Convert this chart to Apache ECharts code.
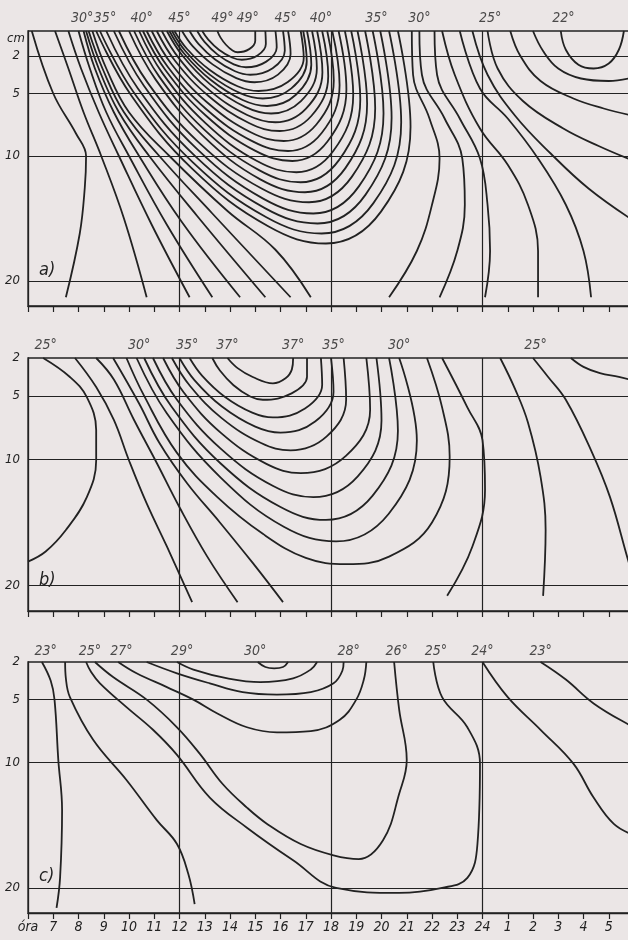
<!DOCTYPE html>
<html>
<head>
<meta charset="utf-8">
<script src="https://cdn.jsdelivr.net/npm/echarts@6/dist/echarts.min.js"></script>
<style>
  html, body { margin: 0; padding: 0; background: #ebe6e6; }
  #chart { width: 628px; height: 940px; }
</style>
</head>
<body>
<div id="chart"></div>
<script>
// x = hour of day (6..30, 25..30 = 1..6 next morning), y = depth in cm
var hourLabels = ['óra','7','8','9','10','11','12','13','14','15','16','17','18',
  '19','20','21','22','23','24','1','2','3','4','5',''];
var hourLines = [12, 18, 24];
var depthLabels = [2, 5, 10, 20];
var depthLinesA = [2, 5, 10, 20];
var depthLinesBC = [5, 10, 20];

// a) isotherms: lines running from the surface down to 21 cm in the morning
var aFan = [
  [[6.15,0],[7.0,5],[7.9,8.2],[8.3,10],[8.25,12.5],[8.05,16.2],[7.5,21.3]],
  [[7.07,0],[7.6,3],[8.2,6.5],[8.9,10],[9.8,15],[10.7,21.3]],
  [[7.6,0],[8.1,3],[8.8,6.5],[9.6,10],[10.9,15.5],[12.4,21.3]],
  [[8.0,0],[8.45,3],[9.1,6.5],[10.0,10],[11.5,15.5],[13.3,21.3]],
  [[8.2,0],[8.65,3],[9.4,6.5],[10.4,10],[12.1,15.3],[14.4,21.3]],
  [[8.3,0],[8.8,3],[9.6,6.5],[10.8,10],[12.7,14.8],[15.4,21.3]],
  [[8.4,0],[8.95,3],[9.8,6.5],[11.2,10],[13.3,14.6],[16.4,21.3]],
  [[8.55,0],[9.1,3],[10.0,6.5],[11.6,10],[13.9,14.4],[15.8,17.5],[17.2,21.3]]
];
// a) closed isotherms 49° .. 28° (both ends at the surface)
var aLoops = [
  [[13.5,0],[13.62,0.51],[13.84,1.1],[14.1,1.56],[14.3,1.7],[14.76,1.45],[15.0,0.77],[15.0,0]],
  [[12.9,0],[13.14,0.69],[13.56,1.5],[14.08,2.12],[14.47,2.3],[15.09,1.96],[15.42,1.04],[15.4,0]],
  [[12.7,0],[12.99,0.87],[13.51,1.89],[14.15,2.67],[14.63,2.9],[15.42,2.47],[15.85,1.31],[15.8,0]],
  [[12.4,0],[12.76,1.05],[13.41,2.28],[14.2,3.22],[14.8,3.5],[15.69,2.98],[16.17,1.58],[16.1,0]],
  [[12.1,0],[12.53,1.23],[13.31,2.67],[14.25,3.77],[14.97,4.1],[15.9,3.49],[16.4,1.85],[16.3,0]],
  [[11.8,0],[12.3,1.44],[13.2,3.12],[14.3,4.42],[15.13,4.8],[16.29,4.08],[16.92,2.16],[16.8,0]],
  [[11.7,0],[12.24,1.62],[13.21,3.51],[14.4,4.97],[15.3,5.4],[16.43,4.59],[17.04,2.43],[16.9,0]],
  [[11.6,0],[12.18,1.8],[13.23,3.9],[14.5,5.52],[15.47,6.0],[16.61,5.1],[17.22,2.7],[17.05,0]],
  [[11.5,0],[12.12,1.98],[13.23,4.29],[14.6,6.07],[15.63,6.6],[16.81,5.61],[17.44,2.97],[17.25,0]],
  [[11.3,0],[11.98,2.19],[13.19,4.75],[14.68,6.72],[15.8,7.3],[17.01,6.21],[17.66,3.29],[17.45,0]],
  [[11.1,0],[11.83,2.4],[13.15,5.2],[14.75,7.36],[15.97,8.0],[17.22,6.8],[17.89,3.6],[17.65,0]],
  [[10.9,0],[11.68,2.64],[13.1,5.72],[14.82,8.1],[16.13,8.8],[17.42,7.48],[18.11,3.96],[17.85,0]],
  [[10.7,0],[11.54,2.88],[13.05,6.24],[14.9,8.83],[16.3,9.6],[17.63,8.16],[18.34,4.32],[18.05,0]],
  [[10.55,0],[11.44,3.12],[13.04,6.76],[14.99,9.57],[16.47,10.4],[17.86,8.84],[18.61,4.68],[18.3,0]],
  [[10.4,0],[11.33,3.39],[13.02,7.35],[15.07,10.4],[16.63,11.3],[18.09,9.6],[18.88,5.09],[18.55,0]],
  [[10.2,0],[11.19,3.63],[12.97,7.87],[15.15,11.13],[16.8,12.1],[18.33,10.29],[19.16,5.45],[18.8,0]],
  [[10.0,0],[11.05,3.87],[12.93,8.39],[15.2,11.87],[16.97,12.9],[18.57,10.97],[19.43,5.81],[19.05,0]],
  [[9.6,0],[10.73,4.11],[12.76,8.91],[15.25,12.6],[17.13,13.7],[18.83,11.65],[19.75,6.17],[19.35,0]],
  [[9.4,0],[10.59,4.38],[12.72,9.49],[15.33,13.43],[17.3,14.6],[19.11,12.41],[20.08,6.57],[19.65,0]],
  [[9.1,0],[10.36,4.62],[12.62,10.01],[15.38,14.17],[17.47,15.4],[19.37,13.09],[20.4,6.93],[19.95,0]],
  [[8.85,0],[10.17,4.86],[12.54,10.53],[15.44,14.9],[17.63,16.2],[19.68,13.77],[20.78,7.29],[20.3,0]],
  [[8.7,0],[10.07,5.1],[12.52,11.05],[15.53,15.64],[17.8,17.0],[19.98,14.45],[21.15,7.65],[20.65,0]]
];
// a) evening and night isotherms
var aRight = [
  [[21.2,0],[21.25,3.5],[21.9,7],[22.3,10.2],[22.0,13.9],[21.4,17.6],[20.3,21.3]],
  [[21.5,0],[21.6,3.5],[22.5,7],[23.2,10.2],[23.3,13.9],[23.0,17.6],[22.3,21.3]],
  [[22.1,0],[22.2,3.5],[23.1,7],[23.9,10.2],[24.2,13.9],[24.3,17.6],[24.1,21.3]],
  [[22.4,0],[22.9,3.5],[23.9,7.8],[25.0,10.7],[25.8,13.9],[26.2,17.6],[26.2,21.3]],
  [[23.1,0],[23.9,4.6],[25.0,7],[26.2,10.2],[27.3,13.9],[28.0,17.6],[28.3,21.3]],
  [[23.6,0],[24.2,3.5],[25.3,6.8],[26.7,9.8],[28.2,12.6],[30,15.2]],
  [[24.2,0],[24.6,3],[25.6,5.6],[27.2,7.8],[28.6,9.2],[30,10.4]],
  [[25.1,0],[25.5,2],[26.3,4.0],[27.6,5.4],[28.8,6.2],[30,6.8]],
  [[26.0,0],[26.4,1.6],[27.0,3.0],[27.9,3.8],[29.0,4.0],[30,3.7]],
  [[27.1,0],[27.3,1.5],[27.8,2.7],[28.4,3.0],[29.0,2.6],[29.4,1.5],[29.6,0]]
];
var aLabels = [[8.14,'30°'],[9.05,'35°'],[10.5,'40°'],[12.0,'45°'],[13.7,'49°'],[14.7,'49°'],
  [16.2,'45°'],[17.6,'40°'],[19.8,'35°'],[21.5,'30°'],[24.3,'25°'],[27.2,'22°']];

// b)
var bCurves = [
  [[6.6,2],[7.66,3.5],[8.33,5.1],[8.7,7.7],[8.7,10.1],[8.33,13],[7.5,15.6],[6.7,17.3],[6.0,18.1]],
  [[7.86,2],[8.7,4.3],[9.4,6.9],[10.0,10.1],[10.7,13.5],[11.5,16.9],[12.5,21.3]],
  [[8.7,2],[9.4,3.7],[10.2,6.9],[11.1,10.3],[12.0,13.8],[13.1,17.7],[14.3,21.3]],
  [[9.37,2],[10.4,5.6],[11.2,8.7],[12.3,11.9],[13.6,15],[14.9,18.2],[16.1,21.3]],
  [[13.9,2],[14.3,2.8],[14.9,3.5],[15.7,4.0],[16.2,3.6],[16.45,2.9],[16.5,2]],
  [[13.3,2],[13.6,2.99],[14.14,4.15],[14.8,5.04],[15.3,5.3],[16.44,4.8],[17.05,3.49],[17.05,2]],
  [[12.4,2],[12.9,3.41],[13.79,5.06],[14.88,6.32],[15.7,6.7],[16.97,6.0],[17.65,4.12],[17.6,2]],
  [[12.0,2],[12.6,3.77],[13.68,5.84],[15.0,7.43],[16.0,7.9],[17.37,7.02],[18.1,4.66],[18.0,2]],
  [[11.7,2],[12.41,4.19],[13.67,6.75],[15.23,8.72],[16.4,9.3],[17.83,8.2],[18.6,5.29],[18.5,2]],
  [[11.35,2],[12.17,4.73],[13.64,7.92],[15.44,10.37],[16.8,11.1],[18.59,9.74],[19.55,6.1],[19.4,2]],
  [[10.95,2],[11.9,5.3],[13.62,9.15],[15.71,12.12],[17.3,13.0],[19.06,11.35],[20.0,6.95],[19.8,2]],
  [[10.6,2],[11.68,5.84],[13.62,10.32],[16.0,13.78],[17.8,14.8],[19.65,12.88],[20.65,7.76],[20.3,2]],
  [[10.3,2],[11.49,6.35],[13.62,11.43],[16.13,15.34],[18.2,16.5],[20.28,14.33],[21.4,8.53],[20.7,2]],
  [[9.9,2],[10.6,5],[11.9,9.5],[13.5,13],[15.3,15.9],[17.0,17.8],[18.6,18.3],[20.3,17.7],[22.0,15],[22.7,9.8],[22.4,5.9],[21.8,2]],
  [[22.4,2],[23.4,5.9],[24.0,8.5],[24.1,12.4],[23.6,16.9],[22.6,20.8]],
  [[24.7,2],[25.3,4.5],[25.8,7.1],[26.3,11.4],[26.5,15.6],[26.4,20.8]],
  [[26.0,2],[26.6,3.5],[27.3,5.3],[28.3,9.3],[29.05,13],[29.8,18.2],[30,19.3]],
  [[27.5,2],[28.0,2.7],[28.65,3.2],[29.4,3.5],[30,3.8]]
];
var bLabels = [[6.7,'25°'],[10.4,'30°'],[12.3,'35°'],[13.9,'37°'],[16.5,'37°'],
  [18.1,'35°'],[20.7,'30°'],[26.1,'25°']];

// c)
var cCurves = [
  [[6.55,2],[6.9,3.5],[7.05,5],[7.2,9.8],[7.35,13.8],[7.27,19.2],[7.13,21.6]],
  [[7.47,2],[7.5,3.3],[7.66,4.8],[8.58,8.2],[9.9,11.4],[11.1,14.6],[11.9,16.5],[12.35,18.9],[12.6,21.3]],
  [[8.3,2],[8.5,2.8],[8.85,3.7],[9.9,5.6],[10.95,7.4],[11.9,9.4],[13.2,12.8],[14.67,15.2],[16.5,17.8],[18.2,20],
   [20.7,20.4],[22.4,20],[23.4,19.2],[23.8,16.5],[23.9,10.1],[23.4,7.2],[22.4,4.8],[22.05,2]],
  [[8.65,2],[9.37,3.2],[10.7,5.0],[11.9,7.2],[12.8,9.3],[13.7,11.7],[14.67,13.6],[15.47,14.9],[16.8,16.5],[18.1,17.4],
   [19.1,17.7],[20.06,16.2],[20.7,12.5],[21.0,9.8],[20.7,5.8],[20.5,2]],
  [[9.57,2],[10.3,2.9],[11.5,4.0],[12.55,5.0],[13.5,6.1],[14.67,7.2],[15.86,7.6],[17.2,7.5],[18.35,6.6],[19.0,5.0],[19.3,3.4],[19.4,2]],
  [[10.7,2],[11.9,2.9],[13.2,3.7],[14.5,4.4],[15.86,4.6],[17.2,4.4],[18.1,3.7],[18.45,2.7],[18.5,2]],
  [[11.9,2],[12.55,2.6],[13.9,3.3],[15.2,3.6],[16.5,3.3],[17.2,2.6],[17.45,2]],
  [[15.1,2],[15.4,2.4],[15.75,2.5],[16.1,2.4],[16.3,2]],
  [[24.0,2],[25.0,4.8],[26.3,7.4],[27.6,10.1],[28.4,12.8],[29.2,14.9],[30,15.8]],
  [[26.3,2],[27.3,3.4],[28.4,5.3],[29.8,7.0],[30,7.1]]
];
var cLabels = [[6.7,'23°'],[8.45,'25°'],[9.7,'27°'],[12.1,'29°'],[15.0,'30°'],[18.7,'28°'],
  [20.6,'26°'],[22.15,'25°'],[24.0,'24°'],[26.3,'23°']];

var INK = '#222';
var FONT = '"Liberation Sans Narrow", "DejaVu Sans Condensed", "DejaVu Sans", sans-serif';

var panels = [
  { top: 31, height: 275, minDepth: 0, curves: aFan.concat(aLoops, aRight), labels: aLabels,
    depthLines: depthLinesA, labelDist: 5, name: 'a)', nameTop: 256 },
  { top: 358, height: 253, minDepth: 2, curves: bCurves, labels: bLabels,
    depthLines: depthLinesBC, labelDist: 5, name: 'b)', nameTop: 566 },
  { top: 662, height: 251, minDepth: 2, curves: cCurves, labels: cLabels,
    depthLines: depthLinesBC, labelDist: 3, name: 'c)', nameTop: 862 }
];

var grids = [], xAxes = [], yAxes = [], series = [], titles = [];

panels.forEach(function (p, g) {
  grids.push({
    left: 28, right: -6, top: p.top, height: p.height,
    show: true, borderColor: INK, borderWidth: 1.3,
    containLabel: false, outerBoundsMode: 'none'
  });
  xAxes.push({
    type: 'value', gridIndex: g, min: 6, max: 30, interval: 1, position: 'bottom',
    axisLine: { show: true, onZero: false, lineStyle: { color: INK, width: 1.3 } },
    axisTick: { show: true, inside: false, length: 6, lineStyle: { color: INK, width: 1.2 } },
    axisLabel: {
      show: g === 2, margin: 7, color: INK, fontSize: 14, fontStyle: 'italic', fontFamily: FONT,
      formatter: function (v) { return hourLabels[v - 6]; }
    },
    splitLine: { show: false }
  });
  yAxes.push({
    type: 'value', gridIndex: g, inverse: true, min: p.minDepth, max: 22, interval: 1,
    axisLine: { show: true, onZero: false, lineStyle: { color: INK, width: 1.3 } },
    axisTick: { show: false },
    axisLabel: {
      margin: 8, color: INK, fontSize: 13, fontStyle: 'italic', fontFamily: FONT,
      formatter: function (v) { return depthLabels.indexOf(v) >= 0 ? String(v) : ''; }
    },
    splitLine: { show: false }
  });

  p.curves.forEach(function (c) {
    series.push({
      type: 'line', xAxisIndex: g, yAxisIndex: g, data: c,
      smooth: 0.4, symbol: 'none', silent: true, animation: false,
      lineStyle: { color: INK, width: 1.8 }
    });
  });

  var marks = p.depthLines.map(function (d) { return { yAxis: d }; })
    .concat(hourLines.map(function (h) { return { xAxis: h }; }));

  series.push({
    type: 'scatter', xAxisIndex: g, yAxisIndex: g, silent: true, animation: false,
    symbolSize: 1, itemStyle: { color: 'rgba(0,0,0,0)' },
    data: p.labels.map(function (l) { return { value: [l[0], p.minDepth], name: l[1] }; }),
    label: {
      show: true, position: 'top', distance: p.labelDist, formatter: '{b}',
      color: INK, fontSize: 14, fontStyle: 'italic', fontFamily: FONT
    },
    markLine: {
      silent: true, symbol: 'none', animation: false,
      label: { show: false },
      lineStyle: { color: INK, width: 1.2, type: 'solid' },
      data: marks
    }
  });

  titles.push({
    text: p.name, left: 34, top: p.nameTop,
    textStyle: { color: INK, fontSize: 18, fontStyle: 'italic', fontWeight: 'normal', fontFamily: FONT }
  });
});

var chart = echarts.init(document.getElementById('chart'), null, { renderer: 'canvas' });
chart.setOption({
  backgroundColor: '#ebe6e6',
  animation: false,
  title: titles,
  grid: grids,
  xAxis: xAxes,
  yAxis: yAxes,
  series: series,
  graphic: [{
    type: 'text', left: 7, top: 32,
    style: { text: 'cm', fill: INK, fontSize: 13, fontStyle: 'italic', fontFamily: FONT }
  }]
});
</script>
</body>
</html>
